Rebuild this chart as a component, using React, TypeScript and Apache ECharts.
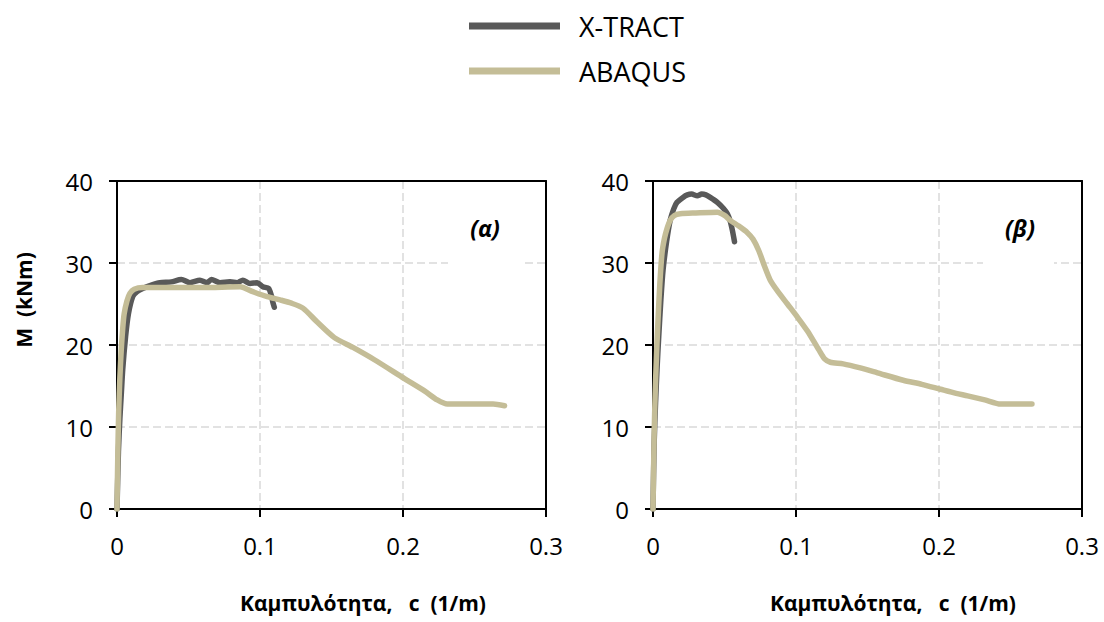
import React, { useEffect, useRef } from "react";
import * as echarts from "echarts";

// Curvature c (1/m), moment M (kNm)
const xtractA: number[][] = [
  [0, 0], [0.001, 7], [0.002, 11], [0.003, 14], [0.004, 17], [0.006, 21], [0.008, 23.8],
  [0.011, 25.9], [0.014, 26.5], [0.018, 26.9], [0.024, 27.3], [0.03, 27.6], [0.038, 27.7],
  [0.045, 28.0], [0.051, 27.6], [0.058, 27.9], [0.063, 27.6], [0.066, 28.0], [0.072, 27.6],
  [0.079, 27.7], [0.084, 27.6], [0.088, 27.9], [0.093, 27.5], [0.098, 27.6], [0.102, 27.1],
  [0.106, 26.9], [0.108, 26.0], [0.109, 25.2], [0.11, 24.6],
];
const abaqusA: number[][] = [
  [0, 0], [0.0006, 7], [0.0012, 12], [0.002, 16], [0.003, 19.5], [0.004, 22], [0.005, 23.8],
  [0.007, 25.4], [0.009, 26.3], [0.012, 26.8], [0.018, 27.0], [0.04, 27.0], [0.06, 27.0],
  [0.086, 27.1], [0.095, 26.5], [0.105, 25.9], [0.114, 25.5], [0.122, 25.1], [0.13, 24.5],
  [0.14, 22.8], [0.152, 20.9], [0.165, 19.7], [0.18, 18.2], [0.201, 15.9], [0.215, 14.4],
  [0.224, 13.3], [0.231, 12.8], [0.245, 12.8], [0.263, 12.8], [0.271, 12.6],
];
const xtractB: number[][] = [
  [0, 0], [0.0008, 8], [0.0018, 13], [0.0028, 17], [0.004, 21], [0.0055, 25.5], [0.007, 29.1],
  [0.0095, 32.6], [0.012, 35.2], [0.0145, 36.6], [0.0168, 37.4], [0.021, 38.0], [0.024, 38.3],
  [0.027, 38.4], [0.031, 38.2], [0.034, 38.4], [0.037, 38.3], [0.04, 38.0], [0.045, 37.4],
  [0.049, 36.7], [0.052, 36.0], [0.054, 35.1], [0.0555, 34.0], [0.057, 32.6],
];
const abaqusB: number[][] = [
  [0, 0], [0.0008, 9], [0.0015, 14], [0.0025, 19], [0.0035, 23], [0.0048, 27.5], [0.0063, 31.2],
  [0.008, 33.0], [0.0098, 34.2], [0.012, 35.2], [0.015, 35.8], [0.019, 36.0], [0.03, 36.1],
  [0.045, 36.2], [0.05, 35.8], [0.054, 35.2], [0.06, 34.5], [0.066, 33.7], [0.07, 32.9],
  [0.074, 31.5], [0.078, 29.6], [0.082, 27.9], [0.087, 26.6], [0.094, 25.0], [0.101, 23.4],
  [0.108, 21.7], [0.116, 19.4], [0.12, 18.3], [0.124, 17.9], [0.133, 17.7], [0.145, 17.2],
  [0.157, 16.6], [0.175, 15.7], [0.188, 15.2], [0.201, 14.6], [0.212, 14.1], [0.22, 13.8],
  [0.232, 13.3], [0.243, 12.8], [0.255, 12.8], [0.265, 12.8],
];

const xTicks = { min: 0, max: 0.3, interval: 0.1 };
const yTicks = { min: 0, max: 40, interval: 10 };

const DARK = "#595959";
const TAN = "#c4bd97";
const FONT = "'Open Sans', 'Noto Sans', sans-serif";

export default function App() {
  const ref = useRef<HTMLDivElement>(null);
  useEffect(() => {
    if (!ref.current) return;
    const chart = echarts.init(ref.current, undefined, { renderer: "svg" });
    const grid = (left: number) => ({ left, top: 181, width: 429, height: 328 });
    const axisBase = {
      type: "value" as const,
      axisLine: { show: true, onZero: false, lineStyle: { color: "#000", width: 2 } },
      axisTick: { show: true, inside: false, length: 8, lineStyle: { color: "#000", width: 2 } },
      axisLabel: { color: "#000", fontSize: 24, fontFamily: FONT, margin: 24 },
      splitLine: { show: true, lineStyle: { color: "#d9d9d9", width: 1.5, type: [8, 4] } },
    };
    const frameBase = {
      type: "value" as const,
      axisLine: { show: true, onZero: false, lineStyle: { color: "#000", width: 2 } },
      axisTick: { show: false }, axisLabel: { show: false }, splitLine: { show: false },
    };
    const line = (name: string, data: number[][], color: string, idx: number) => ({
      name, type: "line" as const, data, xAxisIndex: idx, yAxisIndex: idx,
      showSymbol: false, symbol: "none", smooth: 0.25, color,
      lineStyle: { color, width: 5.5, cap: "round", join: "round" },
      z: color === TAN ? 3 : 2,
    });
    chart.setOption({
      animation: false,
      backgroundColor: "#fff",
      legend: {
        orient: "vertical", left: 464, top: 4, itemWidth: 91, itemHeight: 7, itemGap: 11,
        icon: "rect", data: ["X-TRACT", "ABAQUS"],
        itemStyle: { borderWidth: 0 },
        lineStyle: { width: 7, cap: "butt" },
        textStyle: { fontSize: 27, fontFamily: FONT, color: "#000", lineHeight: 34, padding: [0, 0, 0, 14] },
      },
      grid: [grid(117), grid(653)],
      xAxis: [
        { ...axisBase, gridIndex: 0, ...xTicks },
        { ...axisBase, gridIndex: 1, ...xTicks },
        { ...frameBase, gridIndex: 0, position: "top", ...xTicks },
        { ...frameBase, gridIndex: 1, position: "top", ...xTicks },
      ],
      yAxis: [
        { ...axisBase, gridIndex: 0, ...yTicks },
        { ...axisBase, gridIndex: 1, ...yTicks },
        { ...frameBase, gridIndex: 0, position: "right", ...yTicks },
        { ...frameBase, gridIndex: 1, position: "right", ...yTicks },
      ],
      series: [
        line("X-TRACT", xtractA, DARK, 0),
        line("ABAQUS", abaqusA, TAN, 0),
        line("X-TRACT", xtractB, DARK, 1),
        line("ABAQUS", abaqusB, TAN, 1),
      ],
      graphic: [
        { type: "rect", shape: { x: 448, y: 259, width: 74, height: 6 }, style: { fill: "#fff" }, z: 1 },
        { type: "rect", shape: { x: 983, y: 259, width: 71, height: 6 }, style: { fill: "#fff" }, z: 1 },
        { type: "text", x: 485, y: 228, z: 10,
          style: { text: "(α)", fontSize: 23, fontWeight: "bold", fontStyle: "italic", fontFamily: FONT, fill: "#000", textAlign: "center", textVerticalAlign: "middle" } },
        { type: "text", x: 1020, y: 228, z: 10,
          style: { text: "(β)", fontSize: 23, fontWeight: "bold", fontStyle: "italic", fontFamily: FONT, fill: "#000", textAlign: "center", textVerticalAlign: "middle" } },
        { type: "text", x: 363, y: 603, z: 10,
          style: { text: "Καμπυλότητα,   c  (1/m)", fontSize: 21, fontWeight: "bold", fontFamily: FONT, fill: "#000", textAlign: "center", textVerticalAlign: "middle" } },
        { type: "text", x: 893, y: 603, z: 10,
          style: { text: "Καμπυλότητα,   c  (1/m)", fontSize: 21, fontWeight: "bold", fontFamily: FONT, fill: "#000", textAlign: "center", textVerticalAlign: "middle" } },
        { type: "text", x: 24, y: 300, rotation: Math.PI / 2, z: 10,
          style: { text: "M  (kNm)", fontSize: 21, fontWeight: "bold", fontFamily: FONT, fill: "#000", textAlign: "center", textVerticalAlign: "middle" } },
      ],
    });
    return () => chart.dispose();
  }, []);
  return <div ref={ref} style={{ width: 1104, height: 622, position: "absolute", left: 0, top: 0 }} />;
}
